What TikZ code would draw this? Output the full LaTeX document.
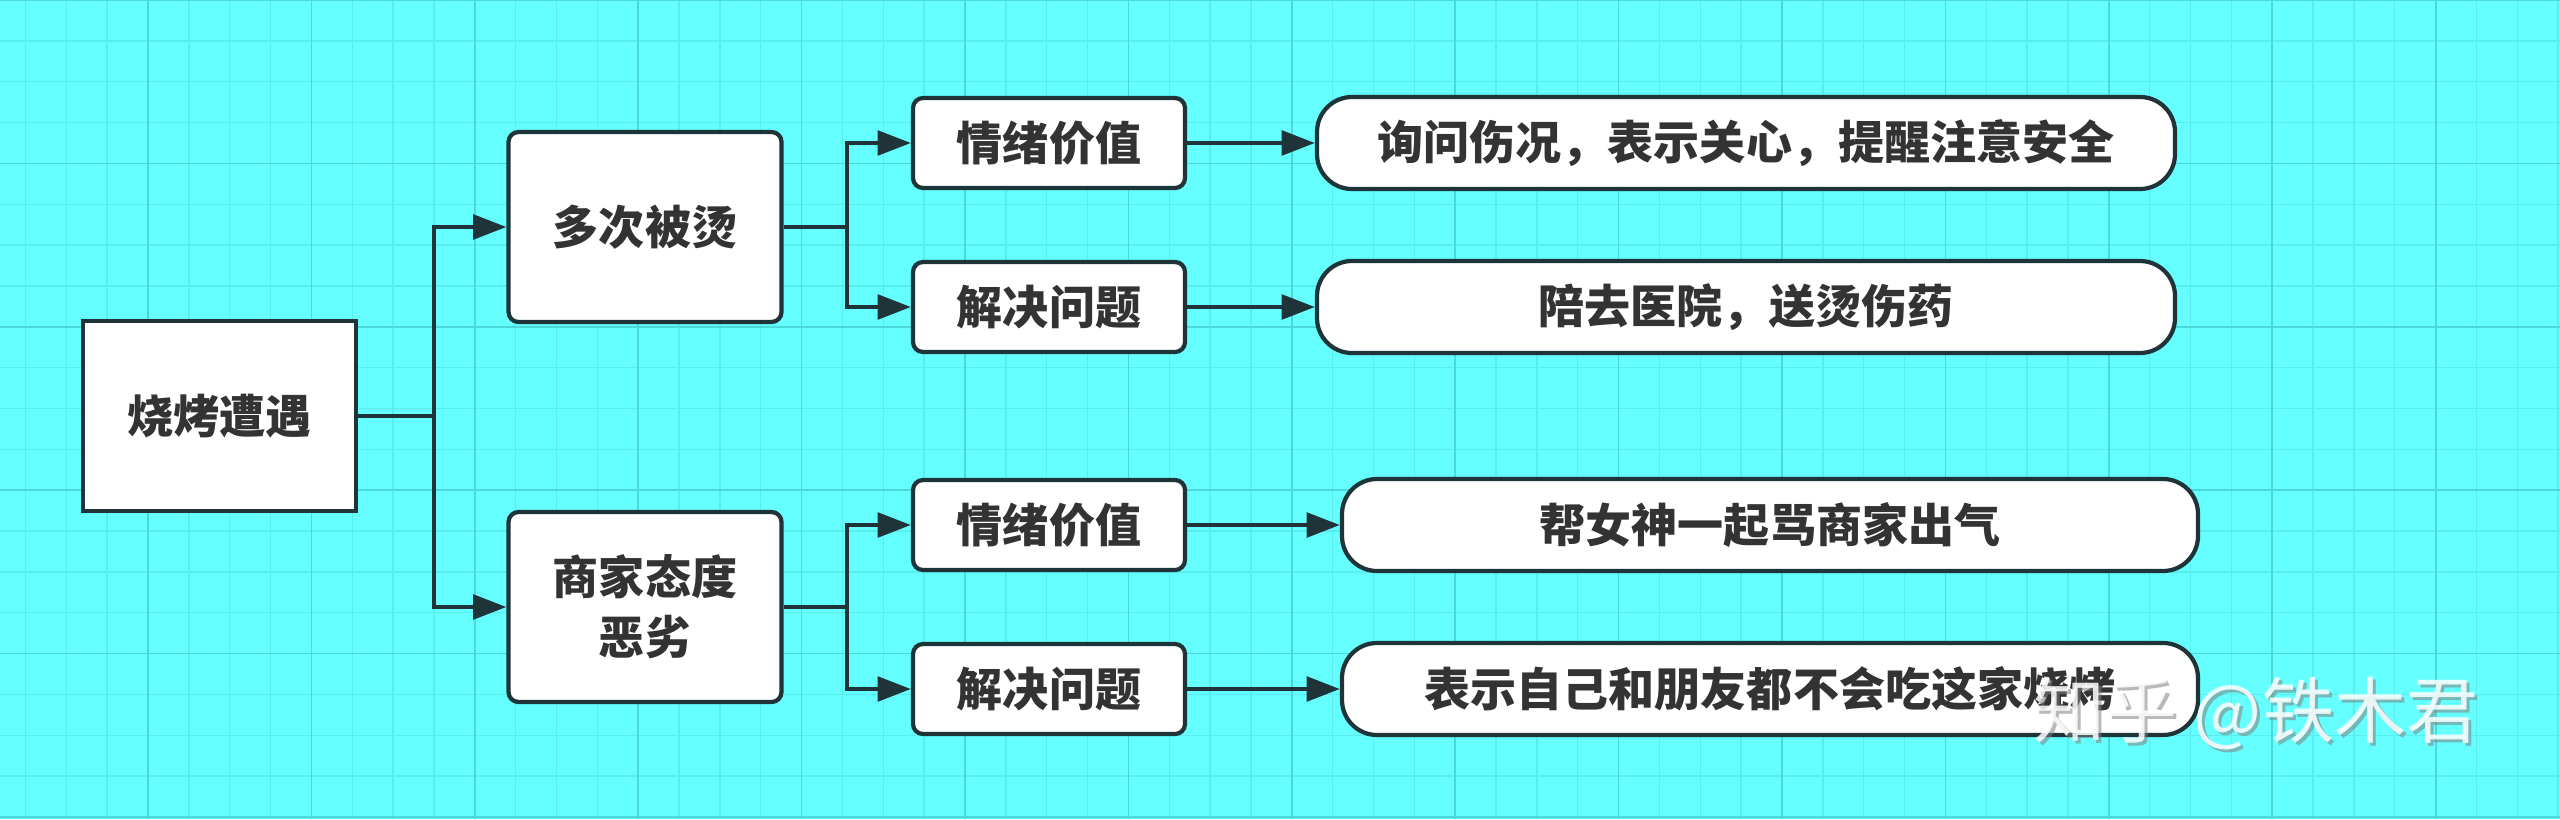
\documentclass[tikz,border=0pt]{standalone}
\usepackage{fontspec}
\usetikzlibrary{arrows.meta}
\newfontfamily\cjk{Noto Sans CJK SC}
\definecolor{bgcyan}{HTML}{66FFFF}
\definecolor{gridminor}{HTML}{5AEDED}
\definecolor{gridmajor}{HTML}{4BD8D8}
\definecolor{edge}{HTML}{1E3438}
\definecolor{txt}{HTML}{333333}
\tikzset{
  box/.style={draw=edge, fill=white, line width=1.2pt, inner sep=0pt, text=txt,
    font=\cjk\bfseries\fontsize{13.1}{17}\selectfont, align=center},
  mainbox/.style={box, minimum width=2.73cm, minimum height=1.90cm},
  subbox/.style={box, rounded corners=0.1cm, minimum width=2.72cm, minimum height=0.90cm},
  leafbox/.style={box, rounded corners=0.35cm, minimum height=0.92cm},
  link/.style={draw=edge, line width=1.2pt},
}
\begin{document}
\begin{tikzpicture}
    \tikzset{>={Triangle[length=9.5pt,width=7pt]}}
    \useasboundingbox (0,0) rectangle (25.6,8.19);
    \fill[bgcyan] (0,0) rectangle (25.6,8.19);
    \foreach \i in {0,...,62}
        \draw[gridminor, line width=0.4pt] ({0.2545+0.4085*\i},0) -- ++(0,8.19);
    \foreach \k in {0,...,20}
        \draw[gridminor, line width=0.4pt] (0,{8.19-0.4085*\k}) -- ++(25.6,0);
    \foreach \i in {0,...,14}
        \draw[gridmajor, line width=0.5pt] ({1.48+1.634*\i},0) -- ++(0,8.19);
    \foreach \k in {0,...,5}
        \draw[gridmajor, line width=0.5pt] (0,{8.19-1.634*\k}) -- ++(25.6,0);

    \node[mainbox] (root) at (2.195,4.03) {烧烤遭遇};
    \node[mainbox, rounded corners=0.1cm] (burn) at (6.45,5.92) {多次被烫};
    \node[mainbox, rounded corners=0.1cm] (shop) at (6.45,2.12) {商家态度\\恶劣};

    \node[subbox] (burnmood) at (10.49,6.76) {情绪价值};
    \node[subbox] (burnfix) at (10.49,5.12) {解决问题};
    \node[subbox] (shopmood) at (10.49,2.94) {情绪价值};
    \node[subbox] (shopfix) at (10.49,1.30) {解决问题};

    \node[leafbox, minimum width=8.58cm] (burnmoodleaf) at (17.46,6.76) {询问伤况，表示关心，提醒注意安全};
    \node[leafbox, minimum width=8.58cm] (burnfixleaf) at (17.46,5.12) {陪去医院，送烫伤药};
    \node[leafbox, minimum width=8.56cm] (shopmoodleaf) at (17.70,2.94) {帮女神一起骂商家出气};
    \node[leafbox, minimum width=8.56cm] (shopfixleaf) at (17.70,1.30) {表示自己和朋友都不会吃这家烧烤};

    \draw[link] (root.east) -- ++(0.76,0) coordinate (rootfork);
    \draw[link,->] (rootfork) |- (burn.west);
    \draw[link,->] (rootfork) |- (shop.west);
    \draw[link] (burn.east) -- ++(0.63,0) coordinate (burnfork);
    \draw[link,->] (burnfork) |- (burnmood.west);
    \draw[link,->] (burnfork) |- (burnfix.west);
    \draw[link] (shop.east) -- ++(0.63,0) coordinate (shopfork);
    \draw[link,->] (shopfork) |- (shopmood.west);
    \draw[link,->] (shopfork) |- (shopfix.west);

    \draw[link,->] (burnmood) -- (burnmoodleaf);
    \draw[link,->] (burnfix) -- (burnfixleaf);
    \draw[link,->] (shopmood) -- (shopmoodleaf);
    \draw[link,->] (shopfix) -- (shopfixleaf);

    \node[font=\cjk\fontsize{20.5}{24}\selectfont, text=gray, opacity=0.55] (markshadow) at (22.59,1.03) {知乎 @铁木君};
    \node[font=\cjk\fontsize{20.5}{24}\selectfont, text=white, opacity=0.85] (mark) at (22.56,1.06) {知乎 @铁木君};
\end{tikzpicture}
\end{document}
